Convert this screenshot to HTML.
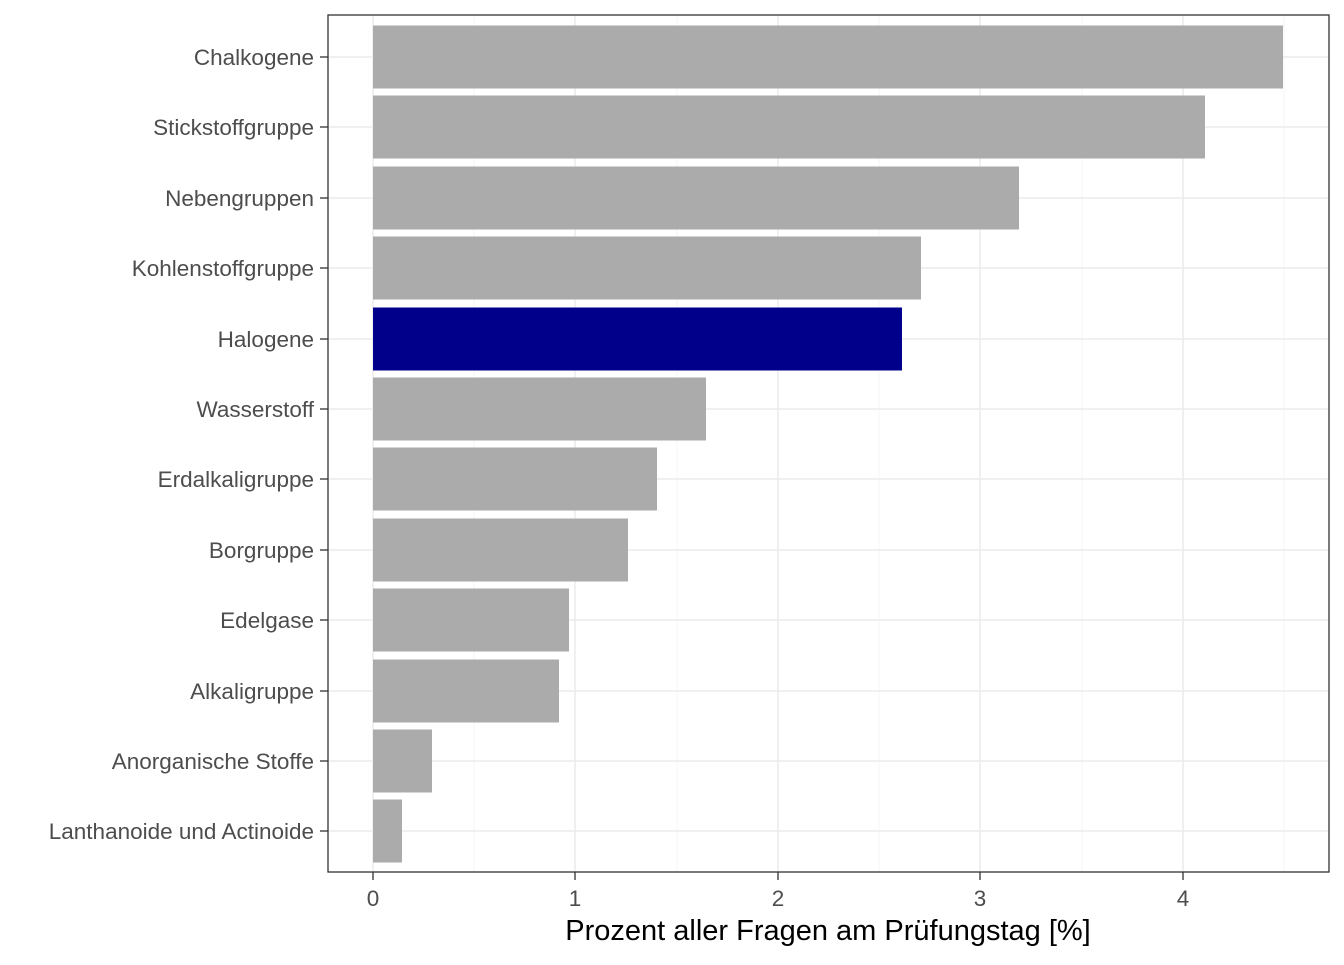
<!DOCTYPE html>
<html><head><meta charset="utf-8"><style>
html,body{margin:0;padding:0;background:#fff;}
</style></head><body>
<svg width="1344" height="960" xmlns="http://www.w3.org/2000/svg" font-family="Liberation Sans, Arial, sans-serif">
<rect width="1344" height="960" fill="#fff"/>
<g stroke="#f5f5f5" stroke-width="1">
<line x1="474" y1="15" x2="474" y2="872"/><line x1="677" y1="15" x2="677" y2="872"/><line x1="879" y1="15" x2="879" y2="872"/><line x1="1082" y1="15" x2="1082" y2="872"/><line x1="1284" y1="15" x2="1284" y2="872"/>
</g>
<g stroke="#ebebeb" stroke-width="1.5">
<line x1="373" y1="15" x2="373" y2="872"/><line x1="575" y1="15" x2="575" y2="872"/><line x1="778" y1="15" x2="778" y2="872"/><line x1="980" y1="15" x2="980" y2="872"/><line x1="1183" y1="15" x2="1183" y2="872"/>
<line x1="328" y1="57" x2="1329" y2="57"/><line x1="328" y1="127" x2="1329" y2="127"/><line x1="328" y1="198" x2="1329" y2="198"/><line x1="328" y1="268" x2="1329" y2="268"/><line x1="328" y1="339" x2="1329" y2="339"/><line x1="328" y1="409" x2="1329" y2="409"/><line x1="328" y1="479" x2="1329" y2="479"/><line x1="328" y1="550" x2="1329" y2="550"/><line x1="328" y1="620" x2="1329" y2="620"/><line x1="328" y1="691" x2="1329" y2="691"/><line x1="328" y1="761" x2="1329" y2="761"/><line x1="328" y1="831" x2="1329" y2="831"/>
</g>
<g fill="#ababab">
<rect x="373" y="25.5" width="910" height="63"/>
<rect x="373" y="95.5" width="832" height="63"/>
<rect x="373" y="166.5" width="646" height="63"/>
<rect x="373" y="236.5" width="548" height="63"/>
<rect x="373" y="307.5" width="529" height="63" fill="#00008b"/>
<rect x="373" y="377.5" width="333" height="63"/>
<rect x="373" y="447.5" width="284" height="63"/>
<rect x="373" y="518.5" width="255" height="63"/>
<rect x="373" y="588.5" width="196" height="63"/>
<rect x="373" y="659.5" width="186" height="63"/>
<rect x="373" y="729.5" width="59" height="63"/>
<rect x="373" y="799.5" width="29" height="63"/>
</g>
<rect x="328" y="15" width="1001" height="857" fill="none" stroke="#333" stroke-width="1.3"/>
<g stroke="#333" stroke-width="1.3">
<line x1="320" y1="57" x2="328" y2="57"/><line x1="320" y1="127" x2="328" y2="127"/><line x1="320" y1="198" x2="328" y2="198"/><line x1="320" y1="268" x2="328" y2="268"/><line x1="320" y1="339" x2="328" y2="339"/><line x1="320" y1="409" x2="328" y2="409"/><line x1="320" y1="479" x2="328" y2="479"/><line x1="320" y1="550" x2="328" y2="550"/><line x1="320" y1="620" x2="328" y2="620"/><line x1="320" y1="691" x2="328" y2="691"/><line x1="320" y1="761" x2="328" y2="761"/><line x1="320" y1="831" x2="328" y2="831"/>
<line x1="373" y1="872" x2="373" y2="880"/><line x1="575" y1="872" x2="575" y2="880"/><line x1="778" y1="872" x2="778" y2="880"/><line x1="980" y1="872" x2="980" y2="880"/><line x1="1183" y1="872" x2="1183" y2="880"/>
</g>
<g fill="#4d4d4d" font-size="22.5" text-anchor="end">
<text x="314" y="65">Chalkogene</text>
<text x="314" y="135">Stickstoffgruppe</text>
<text x="314" y="206">Nebengruppen</text>
<text x="314" y="276">Kohlenstoffgruppe</text>
<text x="314" y="347">Halogene</text>
<text x="314" y="417">Wasserstoff</text>
<text x="314" y="487">Erdalkaligruppe</text>
<text x="314" y="558">Borgruppe</text>
<text x="314" y="628">Edelgase</text>
<text x="314" y="699">Alkaligruppe</text>
<text x="314" y="769">Anorganische Stoffe</text>
<text x="314" y="839">Lanthanoide und Actinoide</text>
</g>
<g fill="#4d4d4d" font-size="22.5" text-anchor="middle">
<text x="373" y="906">0</text><text x="575" y="906">1</text><text x="778" y="906">2</text><text x="980" y="906">3</text><text x="1183" y="906">4</text>
</g>
<text x="828" y="940" font-size="29" text-anchor="middle" fill="#000">Prozent aller Fragen am Prüfungstag [%]</text>
</svg>
</body></html>
